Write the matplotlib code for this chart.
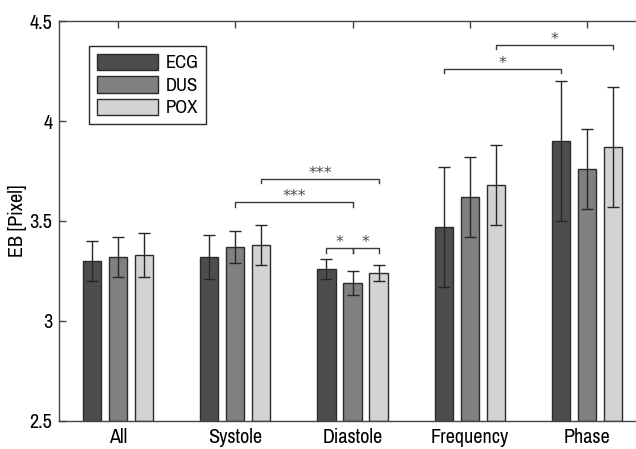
import matplotlib.pyplot as plt
import numpy as np
from matplotlib import font_manager

# fonte estreita se existir
nomes = sorted(set(f.name for f in font_manager.fontManager.ttflist))
estreitas = [n for n in nomes if 'Narrow' in n or 'Condensed' in n]
plt.rcParams['font.family'] = estreitas[:1] + ['Liberation Sans', 'DejaVu Sans']
tam = 14.5 if estreitas else 12
tam_leg = 13.5 if estreitas else 11

# dados
grupos = ['All', 'Systole', 'Diastole', 'Frequency', 'Phase']
metodos = ['ECG', 'DUS', 'POX']
cores = ['#4d4d4f', '#808083', '#d2d3d5']

ecg = [3.30, 3.32, 3.26, 3.47, 3.90]
dus = [3.32, 3.37, 3.19, 3.62, 3.76]
pox = [3.33, 3.38, 3.24, 3.68, 3.87]

ecg_inf = [0.10, 0.11, 0.05, 0.30, 0.40]
ecg_sup = [0.10, 0.11, 0.05, 0.30, 0.30]
dus_inf = [0.10, 0.08, 0.06, 0.20, 0.20]
dus_sup = [0.10, 0.08, 0.06, 0.20, 0.20]
pox_inf = [0.11, 0.10, 0.04, 0.20, 0.30]
pox_sup = [0.11, 0.10, 0.04, 0.20, 0.30]

# comparacoes significativas: (grupo1, metodo1, grupo2, metodo2, altura, texto)
sig = [
    (1, 1, 2, 1, 3.594, '***'),
    (1, 2, 2, 2, 3.71, '***'),
    (2, 0, 2, 1, 3.363, '*'),
    (2, 1, 2, 2, 3.363, '*'),
    (3, 0, 4, 0, 4.26, '*'),
    (3, 2, 4, 2, 4.38, '*'),
]

fig = plt.figure(figsize=(6.36, 4.49), dpi=100)
ax = fig.add_axes([0.0933, 0.063, 0.922, 0.890])

x = np.arange(1, len(grupos) + 1)
desloc = 0.222
larg = 0.155
valores = [ecg, dus, pox]
erros = [(ecg_inf, ecg_sup), (dus_inf, dus_sup), (pox_inf, pox_sup)]

for i in range(3):
    xi = x + (i - 1) * desloc
    ax.bar(xi, np.array(valores[i]) - 2.5, bottom=2.5, width=larg, color=cores[i],
           edgecolor='#2b2b2b', linewidth=1.0, label=metodos[i], zorder=2)
    ax.errorbar(xi, valores[i], yerr=[erros[i][0], erros[i][1]], fmt='none',
                ecolor='#262626', elinewidth=1.0, capsize=4.5, capthick=1.0, zorder=3)

for g1, m1, g2, m2, h, txt in sig:
    x1 = g1 + 1 + (m1 - 1) * desloc
    x2 = g2 + 1 + (m2 - 1) * desloc
    ax.plot([x1, x1, x2, x2], [h - 0.022, h, h, h - 0.022], color='#3a3a3a', lw=1.0,
            clip_on=False, zorder=4)
    ax.text((x1 + x2) / 2, h - 0.008, txt, ha='center', va='bottom', fontsize=11.5,
            color='#4a4a4a', family='DejaVu Sans')

ax.set_xlim(0.5, 5.5)
ax.set_ylim(2.5, 4.5)
ax.set_yticks([2.5, 3, 3.5, 4, 4.5])
ax.set_yticklabels(['2.5', '3', '3.5', '4', '4.5'])
ax.set_xticks(x)
ax.set_xticklabels(grupos)
ax.tick_params(direction='in', length=5, width=1.0, color='#444444', labelsize=tam,
               top=True, pad=5)
for s in ax.spines.values():
    s.set_color('#444444')
    s.set_linewidth(1.0)
ax.spines['right'].set_visible(False)
ax.set_ylabel('EB [Pixel]', fontsize=tam, labelpad=2)

leg = ax.legend(loc='upper left', bbox_to_anchor=(89 / 636, 1 - 46 / 449),
                bbox_transform=fig.transFigure, borderaxespad=0, fontsize=tam_leg,
                handlelength=3.3, handleheight=1.0, labelspacing=0.25,
                handletextpad=0.4, borderpad=0.4, fancybox=False, framealpha=1)
leg.get_frame().set_edgecolor('#2b2b2b')
leg.get_frame().set_linewidth(1.0)
for p in leg.get_patches():
    p.set_edgecolor('#2b2b2b')

plt.savefig('out.png', dpi=100)
